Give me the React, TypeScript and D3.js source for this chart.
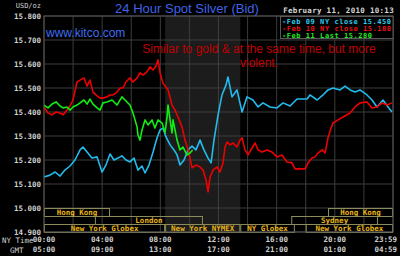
import React from "react";
import * as d3 from "d3";

// ---- data ----
const yTicks = [14.9, 15.0, 15.1, 15.2, 15.3, 15.4, 15.5, 15.6, 15.7, 15.8];
const gridHours = [0, 2, 4, 6, 8, 10, 12, 14, 16, 18, 20, 22, 24];
const xTickHours = [0, 4, 8, 12, 16, 20, 24];
const nyLabels = ["00:00", "04:00", "08:00", "12:00", "16:00", "20:00", "23:59"];
const gmtLabels = ["05:00", "09:00", "13:00", "17:00", "21:00", "01:00", "04:59"];
const comexBand = [8.33, 13.5];

// Feb 09 (cyan) [hour, price]
const feb09: [number, number][] = [
  [0, 15.129], [0.41, 15.137], [0.76, 15.15], [1.1, 15.133], [1.44, 15.158], [1.79, 15.175],
  [2.13, 15.2], [2.48, 15.242], [2.68, 15.254], [2.96, 15.233], [3.3, 15.208], [3.65, 15.213],
  [3.99, 15.15], [4.26, 15.179], [4.54, 15.225], [4.81, 15.2], [5.09, 15.208], [5.36, 15.217],
  [5.64, 15.2], [5.91, 15.192], [6.19, 15.208], [6.46, 15.158], [6.74, 15.175], [6.95, 15.146],
  [7.22, 15.179], [7.5, 15.233], [7.77, 15.292], [7.98, 15.325], [8.18, 15.333], [8.39, 15.296],
  [8.67, 15.263], [8.94, 15.242], [9.15, 15.221], [9.35, 15.179], [9.63, 15.2], [9.9, 15.242],
  [10.18, 15.258], [10.45, 15.242], [10.73, 15.283], [11.0, 15.242], [11.28, 15.208], [11.49, 15.188],
  [11.69, 15.283], [11.97, 15.388], [12.24, 15.471], [12.52, 15.513], [12.65, 15.546], [12.93, 15.463],
  [13.27, 15.492], [13.62, 15.4], [13.96, 15.463], [14.37, 15.45], [14.72, 15.421], [15.06, 15.438],
  [15.54, 15.421], [16.02, 15.417], [16.44, 15.438], [16.92, 15.425], [17.4, 15.454], [18.09, 15.454],
  [18.29, 15.471], [18.78, 15.45], [19.19, 15.471], [19.53, 15.492], [19.88, 15.5], [20.36, 15.492],
  [20.7, 15.508], [21.05, 15.492], [21.39, 15.483], [21.73, 15.492], [22.21, 15.471], [22.56, 15.45],
  [22.9, 15.421], [23.31, 15.45], [23.66, 15.421], [23.93, 15.4],
];

// Feb 10 (red)
const feb10: [number, number][] = [
  [0, 15.421], [0.28, 15.396], [0.55, 15.388], [0.83, 15.4], [1.1, 15.396], [1.31, 15.388],
  [1.58, 15.408], [1.79, 15.425], [1.99, 15.45], [2.27, 15.525], [2.48, 15.533], [2.75, 15.542],
  [2.96, 15.508], [3.16, 15.533], [3.37, 15.483], [3.65, 15.467], [3.85, 15.458], [4.06, 15.458],
  [4.33, 15.463], [4.54, 15.471], [4.75, 15.471], [5.02, 15.483], [5.23, 15.5], [5.43, 15.5],
  [5.64, 15.525], [5.91, 15.542], [6.12, 15.525], [6.4, 15.542], [6.6, 15.563], [6.81, 15.554],
  [7.08, 15.567], [7.29, 15.588], [7.5, 15.575], [7.7, 15.592], [7.84, 15.617], [7.98, 15.563],
  [8.18, 15.521], [8.53, 15.492], [8.8, 15.429], [9.01, 15.408], [9.22, 15.379], [9.49, 15.338],
  [9.7, 15.283], [9.97, 15.229], [10.18, 15.167], [10.45, 15.179], [10.73, 15.171], [10.94, 15.158],
  [11.14, 15.117], [11.28, 15.067], [11.42, 15.129], [11.62, 15.158], [11.9, 15.171], [12.1, 15.15],
  [12.31, 15.188], [12.45, 15.254], [12.59, 15.275], [12.79, 15.263], [13.0, 15.271], [13.27, 15.254],
  [13.48, 15.283], [13.62, 15.292], [13.82, 15.242], [14.03, 15.221], [14.31, 15.25], [14.51, 15.271],
  [14.72, 15.242], [14.99, 15.233], [15.34, 15.242], [15.68, 15.233], [16.02, 15.213], [16.37, 15.221],
  [16.71, 15.192], [17.06, 15.188], [17.26, 15.163], [17.95, 15.163], [18.16, 15.188], [18.43, 15.208],
  [18.64, 15.213], [18.84, 15.229], [19.12, 15.242], [19.33, 15.229], [19.53, 15.292], [19.74, 15.333],
  [19.88, 15.354], [20.22, 15.367], [20.56, 15.379], [21.05, 15.396], [21.39, 15.421], [21.73, 15.438],
  [22.21, 15.442], [22.56, 15.417], [22.9, 15.421], [23.25, 15.438], [23.59, 15.429], [23.93, 15.438],
];

// Feb 11 (green)
const feb11: [number, number][] = [
  [0, 15.429], [0.28, 15.417], [0.55, 15.433], [0.83, 15.442], [1.1, 15.425], [1.31, 15.417],
  [1.58, 15.421], [1.79, 15.408], [1.99, 15.421], [2.27, 15.429], [2.48, 15.438], [2.75, 15.45],
  [2.96, 15.433], [3.16, 15.454], [3.37, 15.433], [3.65, 15.417], [3.85, 15.408], [4.06, 15.438],
  [4.33, 15.442], [4.68, 15.45], [5.02, 15.429], [5.36, 15.463], [5.57, 15.45], [5.91, 15.429],
  [6.12, 15.396], [6.4, 15.338], [6.46, 15.304], [6.6, 15.283], [6.74, 15.325], [6.95, 15.367],
  [7.15, 15.346], [7.43, 15.367], [7.63, 15.333], [7.84, 15.367], [8.12, 15.354], [8.32, 15.313],
  [8.46, 15.379], [8.53, 15.429], [8.67, 15.367], [8.8, 15.313], [8.87, 15.367], [9.01, 15.325],
  [9.15, 15.283], [9.35, 15.242], [9.56, 15.254], [9.83, 15.221], [10.04, 15.229], [10.22, 15.242],
];

const legendLabels = ["-Feb 09 NY close 15.450", "-Feb 10 NY close 15.180", "-Feb 11 Last 15.280"];

// sessions: [row, start hour, end hour, label]
const sessions: [number, number, number, string][] = [
  [0, 0, 4.54, "Hong Kong"],
  [0, 19.53, 24, "Hong Kong"],
  [1, 3.5, 10.93, "London"],
  [1, 17.0, 22.97, "Sydney"],
  [2, 0, 8.33, "New York Globex"],
  [2, 8.33, 13.5, "New York NYMEX"],
  [2, 13.5, 17.25, "NY Globex"],
  [2, 18.0, 24, "New York Globex"],
];

const W = 400, H = 256;
const L = 44, R = 393, T = 16, B = 232;
const mono = "'DejaVu Sans Mono', 'Liberation Mono', monospace";
const sans = "'Liberation Sans', Arial, sans-serif";

export default function App() {
  const x = d3.scaleLinear().domain([0, 24]).range([L, R]);
  const y = d3.scaleLinear().domain([14.9, 15.8]).range([B, T]);
  const line = d3.line<[number, number]>().x((d) => x(d[0])).y((d) => y(d[1]));
  const seriesList = [
    { data: feb09, color: "#22bbee" },
    { data: feb10, color: "#ee0000" },
    { data: feb11, color: "#11ee11" },
  ];
  const legendColors = ["#33ccee", "#ee1111", "#22ee22"];
  const rowTop = (r: number) => y(15.0) + r * 8;

  return (
    <div style={{ position: "fixed", left: 0, top: 0 }}>
      <svg width={W} height={H} style={{ display: "block", background: "#000" }}>
        <rect x={0} y={0} width={W} height={H} fill="#000" />
        <rect x={x(comexBand[0])} y={T} width={x(comexBand[1]) - x(comexBand[0])} height={B - T} fill="#1b1c1b" />
        {yTicks.map((v) => (
          <line key={"gy" + v} x1={L} x2={R} y1={y(v)} y2={y(v)} stroke="#3c3c3c" strokeWidth={1} />
        ))}
        {gridHours.map((h) => (
          <line key={"gx" + h} x1={x(h)} x2={x(h)} y1={T} y2={B} stroke="#3c3c3c" strokeWidth={1} />
        ))}
        {sessions.map(([r, a, b, lab], i) => (
          <g key={"s" + i}>
            <rect x={x(a) + 0.5} y={rowTop(r) + 0.5} width={x(b) - x(a) - 1} height={8} fill="none" stroke="#8c8c5a" strokeWidth={1} />
            <text x={(x(a) + x(b)) / 2} y={rowTop(r) + 7} textAnchor="middle" fill="#e8b418" fontFamily={mono} fontWeight="bold" fontSize={7.5}>
              {lab}
            </text>
          </g>
        ))}
        {seriesList.map((s, i) => (
          <path key={"l" + i} d={line(s.data) || ""} fill="none" stroke={s.color} strokeWidth={1.6} strokeLinejoin="round" />
        ))}
        <rect x={L} y={T} width={R - L} height={B - T} fill="none" stroke="#555" strokeWidth={1} />
        {/* legend */}
        <rect x={280.5} y={T + 0.5} width={R - 280.5} height={22} fill="#000" stroke="#5a5a5a" strokeWidth={1} />
        {legendLabels.map((t, i) => (
          <text key={"lg" + i} x={282} y={23.5 + i * 7} fill={legendColors[i]} fontFamily={mono} fontWeight="bold" fontSize={7} letterSpacing={0.55}>
            {t}
          </text>
        ))}
        <text x={394} y={13} textAnchor="end" fill="#d8d8d8" fontFamily={mono} fontWeight="bold" fontSize={7.5} letterSpacing={0.3}>
          February 11, 2010 10:13
        </text>
        {/* titles */}
        <text x={187} y={12.5} textAnchor="middle" fill="#3f63e6" fontFamily={sans} fontSize={13}>
          24 Hour Spot Silver (Bid)
        </text>
        <text x={46} y={37} fill="#3f6cf0" fontFamily={sans} fontSize={12}>
          www.kitco.com
        </text>
        <text x={259} y={53} textAnchor="middle" fill="#c00000" fontFamily={sans} fontSize={12}>
          Similar to gold &amp; at the same time, but more
        </text>
        <text x={259} y={67} textAnchor="middle" fill="#c00000" fontFamily={sans} fontSize={12}>
          violent.
        </text>
        {/* y axis labels */}
        <text x={41} y={8} textAnchor="end" fill="#d0d0d0" fontFamily={mono} fontSize={7}>
          USD/oz
        </text>
        {yTicks.map((v) => (
          <text key={"yl" + v} x={41} y={y(v) + 3} textAnchor="end" fill="#d0d0d0" fontFamily={mono} fontWeight="bold" fontSize={7.5}>
            {v.toFixed(3)}
          </text>
        ))}
        {/* x axis labels */}
        <text x={2} y={243} fill="#d0d0d0" fontFamily={mono} fontSize={7.5}>NY Time</text>
        <text x={10} y={253} fill="#d0d0d0" fontFamily={mono} fontSize={7.5}>GMT</text>
        {xTickHours.map((h, i) => {
          const last = i === xTickHours.length - 1;
          return (
            <g key={"xl" + h}>
              <text x={last ? x(h) + 4 : x(h)} y={242} textAnchor={last ? "end" : "middle"} fill="#d0d0d0" fontFamily={mono} fontWeight="bold" fontSize={7.5}>
                {nyLabels[i]}
              </text>
              <text x={last ? x(h) + 4 : x(h)} y={252} textAnchor={last ? "end" : "middle"} fill="#d0d0d0" fontFamily={mono} fontWeight="bold" fontSize={7.5}>
                {gmtLabels[i]}
              </text>
            </g>
          );
        })}
      </svg>
    </div>
  );
}
